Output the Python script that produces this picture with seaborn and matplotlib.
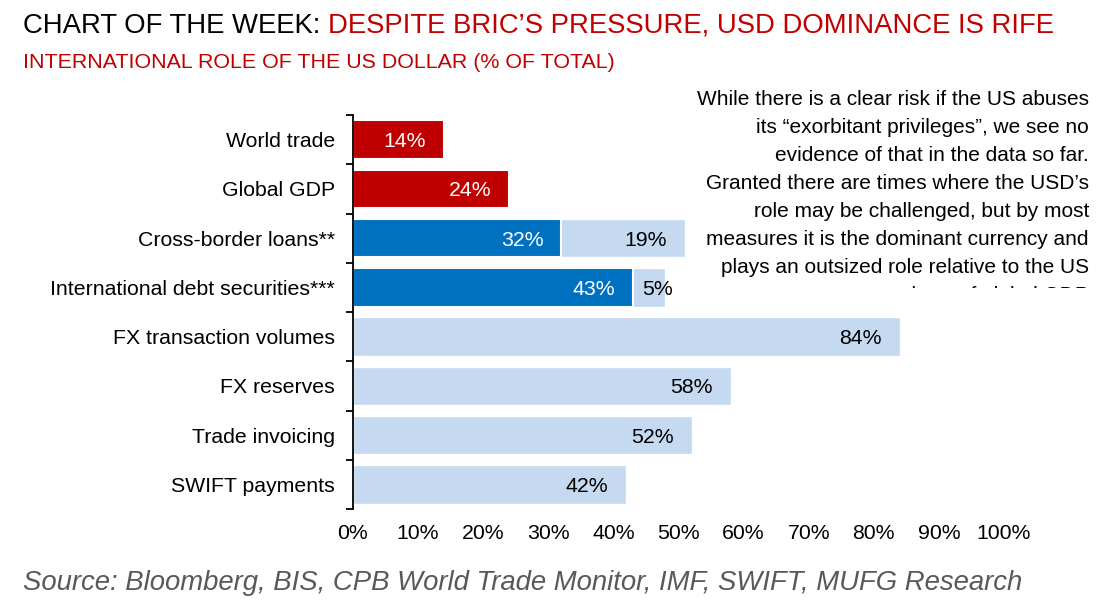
import numpy as np
import pandas as pd
import matplotlib
matplotlib.use("Agg")
import matplotlib.pyplot as plt
import seaborn as sns
from matplotlib.transforms import Bbox, TransformedBbox

# data
categories = [
    "World trade",
    "Global GDP",
    "Cross-border loans**",
    "International debt securities***",
    "FX transaction volumes",
    "FX reserves",
    "Trade invoicing",
    "SWIFT payments",
]
usd_share = [14, 24, 32, 43, 0, 0, 0, 0]       # dark segment (US share)
extra_share = [0, 0, 19, 5, 84, 58, 52, 42]     # light segment
group = ["economy", "economy", "debt", "debt", "role", "role", "role", "role"]
xticks = list(range(0, 101, 10))

note_lines = [
    "While there is a clear risk if the US abuses",
    "its \u201cexorbitant privileges\u201d, we see no",
    "evidence of that in the data so far.",
    "Granted there are times where the USD\u2019s",
    "role may be challenged, but by most",
    "measures it is the dominant currency and",
    "plays an outsized role relative to the US",
    "share of global GDP",
]

RED = "#C00000"
BLUE = "#0070C0"
LIGHT = "#C5D9F1"

sns.set_style("white")
plt.rcParams["font.family"] = ["Liberation Sans", "DejaVu Sans"]

df = pd.DataFrame({
    "category": categories,
    "usd": usd_share,
    "extra": extra_share,
    "group": group,
})
df["total"] = df["usd"] + df["extra"]

W, H = 1109, 602
fig = plt.figure(figsize=(W / 100, H / 100), dpi=100)
ax = fig.add_axes([353 / W, 1 - 509 / H, (1004 - 353) / W, (509 - 115) / H])

# light bars (full length), then the dark segment on top
light = df[df["extra"] > 0]
sns.barplot(data=light, x="total", y="category", order=categories,
            color=LIGHT, saturation=1, width=0.78, errorbar=None,
            orient="h", ax=ax)
dark = df[df["usd"] > 0]
sns.barplot(data=dark, x="usd", y="category", order=categories,
            hue="group", palette={"economy": RED, "debt": BLUE},
            saturation=1, width=0.78, errorbar=None, dodge=False,
            edgecolor="white", linewidth=1.5, legend=False,
            orient="h", ax=ax)

for i, (d, e) in enumerate(zip(usd_share, extra_share)):
    if d > 0:
        ax.annotate(f"{d}%", xy=(d, i), xytext=(-13, 0), textcoords="offset points",
                    ha="right", va="center_baseline", color="white", fontsize=15.3)
    if e > 0:
        if e >= 10:
            ax.annotate(f"{e}%", xy=(d + e, i), xytext=(-13, 0), textcoords="offset points",
                        ha="right", va="center_baseline", color="black", fontsize=15.3)
        else:
            ax.annotate(f"{e}%", xy=(d, i), xytext=(6.5, 0), textcoords="offset points",
                        ha="left", va="center_baseline", color="black", fontsize=15.3)

ax.set_xlim(0, 100)
ax.set_ylim(len(categories) - 0.5, -0.5)
ax.set_xticks(xticks)
ax.set_xticklabels([f"{v}%" for v in xticks])
ax.set_yticks(np.arange(-0.5, len(categories), 1), minor=True)
ax.tick_params(axis="x", length=0, pad=11, labelsize=15.3, colors="black")
ax.tick_params(axis="y", which="major", length=0, pad=13, labelsize=15.3, colors="black")
ax.tick_params(axis="y", which="minor", left=True, length=5, width=1.3,
               direction="out", color="black")
ax.set_xlabel("")
ax.set_ylabel("")
for s in ["top", "right", "bottom"]:
    ax.spines[s].set_visible(False)
ax.spines["left"].set_color("black")
ax.spines["left"].set_linewidth(1.3)

# title
t1 = fig.text(23 / W, 1 - 33 / H, "CHART OF THE WEEK:", fontsize=19.8,
              color="black", va="baseline")
ax.annotate("DESPITE BRIC\u2019S PRESSURE, USD DOMINANCE IS RIFE", xy=(1, 0),
            xycoords=t1, xytext=(5.5, 0), textcoords="offset points",
            fontsize=19.8, color=RED, va="bottom", ha="left", annotation_clip=False)
fig.text(23 / W, 1 - 68 / H, "INTERNATIONAL ROLE OF THE US DOLLAR (% OF TOTAL)",
         fontsize=15.4, color=RED, va="baseline")

# commentary, last line cut off as in the source
clip = TransformedBbox(Bbox([[0, 1 - 288 / H], [1, 1]]), fig.transFigure)
for k, line in enumerate(note_lines):
    t = fig.text(1089 / W, 1 - (105 + 28 * k) / H, line, fontsize=15,
                 ha="right", va="baseline", color="black")
    t.set_clip_box(clip)
    t.set_clip_on(True)

fig.text(23 / W, 1 - 590 / H,
         "Source: Bloomberg, BIS, CPB World Trade Monitor, IMF, SWIFT, MUFG Research",
         fontsize=19.8, style="italic", color="#595959", va="baseline")

fig.savefig("out.png", dpi=100)
